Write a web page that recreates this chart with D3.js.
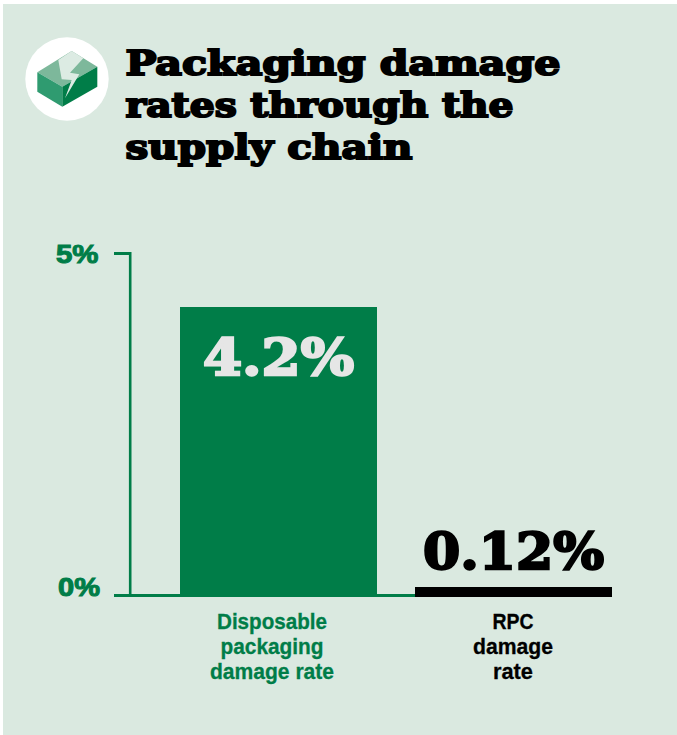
<!DOCTYPE html>
<html><head><meta charset="utf-8">
<script src="https://cdn.jsdelivr.net/npm/d3@7/dist/d3.min.js"></script>
<style>html,body{margin:0;padding:0;background:#fff}svg{display:block}</style></head>
<body><svg id="c" width="677" height="735"></svg>
<script>
const categories = ["Disposable packaging damage rate", "RPC damage rate"];
const categoryLines = [["Disposable","packaging","damage rate"],["RPC","damage","rate"]];
const values = [4.22, 0.12];
const valueLabels = ["4.2%", "0.12%"];
const yTicks = [0, 5];
const titleLines = ["Packaging damage","rates through the","supply chain"];

const GREEN="#007d48", BG="#dae9e0";
const svg=d3.select("#c");
svg.append("rect").attr("x",3).attr("y",4).attr("width",674).attr("height",731).attr("fill",BG);

// icon
const ic=svg.append("g");
ic.append("circle").attr("cx",67).attr("cy",79).attr("r",41.7).attr("fill","#fff");
const poly=(p,f)=>ic.append("polygon").attr("points",p.map(d=>d.join(",")).join(" ")).attr("fill",f);
poly([[37.3,72.3],[71.7,51],[97.3,66.7],[62.3,86.7]],"#7db89b");
poly([[37.3,72.3],[62.3,86.7],[62.3,106.7],[37.3,91.7]],"#2f9b70");
poly([[62.3,86.7],[97.3,66.7],[97.3,86.7],[62.3,106.7]],"#007d48");
poly([[58.3,60],[71.7,51],[83.3,58.3],[70,72.7],[79.3,74.3],[65,98.3],[71.7,80],[61.7,79.3]],"#dcebe3");

// title
const titleWidths=[435,388,287];
svg.append("g").selectAll("text").data(titleLines).join("text")
 .attr("x",125.5).attr("y",(d,i)=>75+i*42)
 .attr("font-family","'DejaVu Serif'").attr("font-weight",700).attr("font-size",34)
 .attr("stroke","#000").attr("stroke-width",2).attr("stroke-linejoin","miter")
 .attr("textLength",(d,i)=>titleWidths[i]).attr("lengthAdjust","spacingAndGlyphs")
 .attr("fill","#000").text(d=>d);

// scales
const y=d3.scaleLinear().domain([0,5]).range([595.5,253.5]);
const x=d3.scaleBand().domain(categories).range([156.5,635.5]).paddingInner(0.1617).paddingOuter(0.1);
const baseY=597;

// axis
const axis=d3.axisLeft(y).tickValues(yTicks).tickSize(16).tickFormat(()=>"");
const ag=svg.append("g").attr("transform","translate(130,0)").call(axis);
ag.selectAll(".domain").remove();
ag.selectAll(".tick line").attr("stroke",GREEN).attr("stroke-width",3).attr("transform","translate(0,-0.5)");
svg.append("line").attr("x1",130.2).attr("x2",130.2).attr("y1",y(5)-1.5).attr("y2",y(0)).attr("stroke",GREEN).attr("stroke-width",2.6);
svg.append("line").attr("x1",130).attr("x2",x(categories[1])).attr("y1",y(0)).attr("y2",y(0)).attr("stroke",GREEN).attr("stroke-width",3);

const yLabelWidth=[43,43.5];
svg.selectAll(".yl").data(yTicks).join("text").attr("class","yl")
 .attr("x",(d,i)=>[58,56][i]).attr("y",d=>d?262.5:596)
 .attr("font-family","'Liberation Sans'").attr("font-weight",700).attr("font-size",25)
 .attr("stroke",GREEN).attr("stroke-width",1).attr("fill",GREEN)
 .attr("textLength",(d,i)=>yLabelWidth[i]-1).attr("lengthAdjust","spacingAndGlyphs")
 .text(d=>d+"%");

// bars
svg.selectAll(".bar").data(categories).join("rect").attr("class","bar")
 .attr("x",d=>x(d)).attr("width",x.bandwidth())
 .attr("y",(d,i)=>y(values[i])).attr("height",(d,i)=>baseY-y(values[i]))
 .attr("shape-rendering","crispEdges")
 .attr("fill",(d,i)=>i?"#000":GREEN);

// value labels
const valueWidths=[151,181], valueBase=[375,568.5], valueCx=[278.5,513.5], valueColor=["#e6e6e6","#000"];
svg.selectAll(".vl").data(categories).join("text").attr("class","vl")
 .attr("x",(d,i)=>valueCx[i]-valueWidths[i]/2).attr("y",(d,i)=>valueBase[i])
 .attr("font-family","'DejaVu Serif'").attr("font-weight",700)
 .attr("font-size",50).attr("stroke-width",2.4).attr("stroke-linejoin","miter")
 .attr("fill",(d,i)=>valueColor[i]).attr("stroke",(d,i)=>valueColor[i])
 .attr("textLength",(d,i)=>valueWidths[i]).attr("lengthAdjust","spacingAndGlyphs")
 .text((d,i)=>valueLabels[i]);

// category labels
const labelWidths=[[110,103,124],[41,80,40]], labelCx=[272,513];
categories.forEach((c,i)=>{
 svg.append("g").selectAll("text").data(categoryLines[i]).join("text")
  .attr("x",(d,j)=>labelCx[i]-labelWidths[i][j]/2).attr("y",(d,j)=>629+j*25.2)
  .attr("font-family","'Liberation Sans'").attr("font-weight",700)
  .attr("font-size",22).attr("stroke-width",0.3)
  .attr("fill",i?"#000":GREEN).attr("stroke",i?"#000":GREEN)
  .attr("textLength",(d,j)=>labelWidths[i][j]).attr("lengthAdjust","spacingAndGlyphs")
  .text(d=>d);
});
</script></body></html>
